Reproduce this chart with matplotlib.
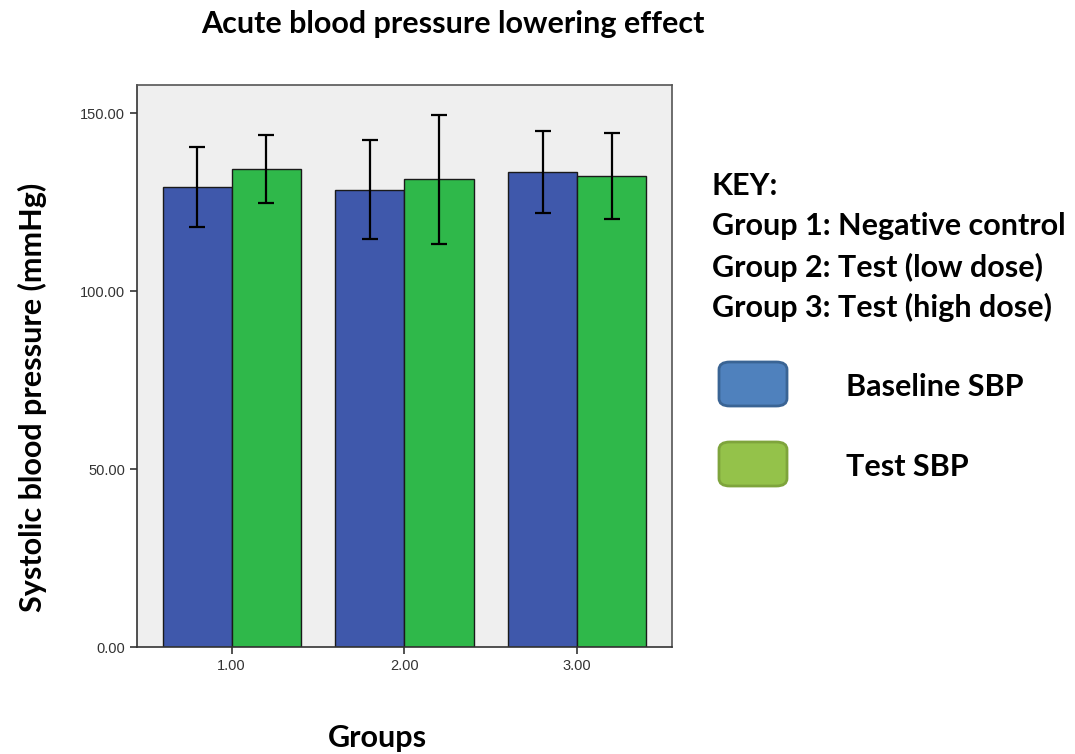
import numpy as np
import matplotlib
matplotlib.use('Agg')
import matplotlib.pyplot as plt
from matplotlib.patches import FancyBboxPatch

groups = [1.0, 2.0, 3.0]
group_labels = ['1.00', '2.00', '3.00']
baseline_sbp = [129.4, 128.6, 133.6]
baseline_lo = [118.1, 114.6, 121.9]
baseline_hi = [140.6, 142.5, 145.0]
test_sbp = [134.3, 131.5, 132.4]
test_lo = [124.9, 113.3, 120.2]
test_hi = [143.9, 149.7, 144.5]
y_ticks = [0, 50, 100, 150]

key_lines = ['KEY:', 'Group 1: Negative control', 'Group 2: Test (low dose)',
             'Group 3: Test (high dose)']

BLUE = '#3f58ab'
GREEN = '#2fb84a'
FONT = 'Lato'
SIZE = 22


def err(vals, lo, hi):
    vals = np.array(vals)
    return [vals - np.array(lo), np.array(hi) - vals]


def main():
    fig = plt.figure(figsize=(10.75, 7.54), dpi=100)
    ax = fig.add_axes([0.1274, 0.1419, 0.4977, 0.7454])
    ax.set_facecolor('#efefef')

    x = np.array(groups)
    w = 0.4
    ekw = dict(ecolor='black', elinewidth=1.6, capsize=6, capthick=1.6)
    ax.bar(x - w / 2, baseline_sbp, w, color=BLUE, edgecolor='#1a1a1a',
           linewidth=1, yerr=err(baseline_sbp, baseline_lo, baseline_hi),
           error_kw=ekw, zorder=2)
    ax.bar(x + w / 2, test_sbp, w, color=GREEN, edgecolor='#1a1a1a',
           linewidth=1, yerr=err(test_sbp, test_lo, test_hi),
           error_kw=ekw, zorder=2)

    ax.set_xlim(0.452, 3.548)
    ax.set_ylim(0, 158)
    ax.set_xticks(groups)
    ax.set_xticklabels(group_labels, family='Liberation Sans')
    ax.set_yticks(y_ticks)
    ax.set_yticklabels(['%.2f' % v for v in y_ticks], family='Liberation Sans')
    ax.tick_params(axis='both', labelsize=10.5, colors='#333333', length=5,
                   width=1.2, direction='out')
    for s in ax.spines.values():
        s.set_color('#555555')
        s.set_linewidth(1.2)
    ax.spines['left'].set_color('#333333')
    ax.spines['bottom'].set_color('#333333')

    fig.text(0.421, 0.968, 'Acute blood pressure lowering effect', ha='center',
             va='center', fontsize=SIZE, fontweight='bold', family=FONT)
    fig.text(0.030, 0.473, 'Systolic blood pressure (mmHg)', ha='center',
             va='center', rotation=90, fontsize=SIZE, fontweight='bold',
             family=FONT)
    fig.text(0.351, 0.021, 'Groups', ha='center', va='center', fontsize=SIZE,
             fontweight='bold', family=FONT)

    for i, line in enumerate(key_lines):
        fig.text(0.662, 1 - (186 + 40.5 * i) / 754, line, ha='left',
                 va='center', fontsize=SIZE, fontweight='bold', family=FONT)

    # legend swatches drawn as rounded boxes beside the key
    boxes = [('#4f81bd', '#3a6494', 'Baseline SBP', 384),
             ('#94c24a', '#7ea43c', 'Test SBP', 464)]
    for face, edge, label, yc in boxes:
        bw, bh = 68 / 1075, 44 / 754
        patch = FancyBboxPatch((719 / 1075, 1 - (yc + 22) / 754), bw, bh,
                               boxstyle='round,pad=0,rounding_size=0.01',
                               transform=fig.transFigure, facecolor=face,
                               edgecolor=edge, linewidth=2)
        fig.patches.append(patch)
        fig.text(846 / 1075, 1 - (yc + 3) / 754, label, ha='left',
                 va='center', fontsize=SIZE, fontweight='bold', family=FONT)

    fig.savefig('out.png', dpi=100)


main()
